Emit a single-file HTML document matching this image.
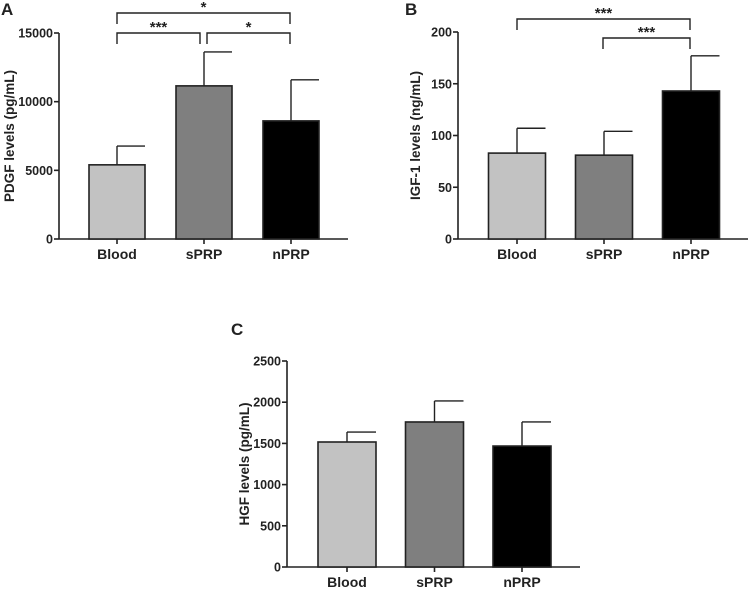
<!DOCTYPE html>
<html><head><meta charset="utf-8"><style>
html,body{margin:0;padding:0;background:#fff;}
svg text{font-family:"Liberation Sans",Arial,sans-serif;font-weight:bold;fill:#222;}
</style></head><body>
<svg id="fig" width="750" height="588" viewBox="0 0 750 588"></svg>
<script>
const categories = ["Blood","sPRP","nPRP"];
const pdgfValues = [5400, 11150, 8600];
const pdgfErrors = [1370, 2470, 2990];
const pdgfTicks = [0, 5000, 10000, 15000];
const igfValues = [83, 81, 143];
const igfErrors = [24, 23, 34];
const igfTicks = [0, 50, 100, 150, 200];
const hgfValues = [1517, 1760, 1468];
const hgfErrors = [121, 255, 292];
const hgfTicks = [0, 500, 1000, 1500, 2000, 2500];
const fills = ["#c2c2c2","#7f7f7f","#000000"];

const NS="http://www.w3.org/2000/svg";
const svg=document.getElementById('fig');
function mk(tag,attrs,parent){const e=document.createElementNS(NS,tag);for(const k in attrs)e.setAttribute(k,attrs[k]);(parent||svg).appendChild(e);return e;}

function panel(cfg){
  const g=mk('g',{});
  
  
  const ymax=cfg.ticks[cfg.ticks.length-1];
  const y=v=>cfg.y0-(v/ymax)*(cfg.y0-cfg.yTop);
  const ya=mk('line',{x1:cfg.ax,y1:cfg.yTop,x2:cfg.ax,y2:cfg.y0,stroke:'#222','stroke-width':1.6},g);
  
  
  const xa=mk('line',{x1:cfg.ax,y1:cfg.y0,x2:cfg.axEnd,y2:cfg.y0,stroke:'#222','stroke-width':1.6},g);
  
  
  cfg.ticks.forEach(t=>{
    mk('line',{x1:cfg.ax-5,y1:y(t),x2:cfg.ax,y2:y(t),stroke:'#222','stroke-width':1.6},g);
    const tl=mk('text',{x:cfg.ax-6,y:y(t)+4.5,'text-anchor':'end','font-size':12.5},g);
    tl.textContent=t;
    
    
  });
  const bw=cfg.bw;
  categories.forEach((c,i)=>{
    const cx=cfg.x0+i*cfg.step;
    const v=cfg.values[i], e=cfg.errors[i];
    mk('line',{x1:cx,y1:y(v+e),x2:cx,y2:y(v),stroke:'#222','stroke-width':1.4},g);
    mk('line',{x1:cx,y1:y(v+e),x2:cx+bw/2,y2:y(v+e),stroke:'#222','stroke-width':1.4},g);
    const r=mk('rect',{x:cx-bw/2,y:y(v),width:bw,height:cfg.y0-y(v),fill:fills[i],stroke:'#222','stroke-width':1.6},g);
    
    
    mk('line',{x1:cx,y1:cfg.y0,x2:cx,y2:cfg.y0+5,stroke:'#222','stroke-width':1.6},g);
    const xl=mk('text',{x:cx,y:cfg.y0+20,'text-anchor':'middle','font-size':14},g);
    xl.textContent=c;
    
    
  });
  const yt=mk('text',{x:0,y:0,'text-anchor':'middle','font-size':13.5,transform:`translate(${cfg.titleX},${(cfg.yTop+cfg.y0)/2}) rotate(-90)`},g);
  yt.textContent=cfg.title;
  
  
  const pl=mk('text',{x:cfg.lx,y:cfg.ly,'font-size':17,fill:'#000'},g);
  pl.textContent=cfg.letter;
  
  
  (cfg.brackets||[]).forEach(b=>{
    const x1=cfg.x0+b[0]*cfg.step+(b[3]||0), x2=cfg.x0+b[1]*cfg.step+(b[4]||0);
    const p=mk('path',{d:`M${x1},${b[2]+11} V${b[2]} H${x2} V${b[2]+11}`,fill:'none',stroke:'#222','stroke-width':1.4},g);
    
    
    const s=mk('text',{x:(x1+x2)/2,y:b[2]-1,'text-anchor':'middle','font-size':15},g);
    s.textContent=b[5];
    
    
  });
}

panel({name:'panel-a-pdgf',values:pdgfValues,errors:pdgfErrors,ticks:pdgfTicks,ax:59,axEnd:348,y0:239,yTop:33,x0:117,step:87,bw:56,
  title:'PDGF levels (pg/mL)',titleX:14,letter:'A',lx:1,ly:15,
  brackets:[[0,2,13,0,-1,'*'],[0,1,33,0,-4,'***'],[1,2,33,3,-1,'*']]});
panel({name:'panel-b-igf1',values:igfValues,errors:igfErrors,ticks:igfTicks,ax:458,axEnd:748,y0:239,yTop:32,x0:517,step:87,bw:57,
  title:'IGF-1 levels (ng/mL)',titleX:420,letter:'B',lx:405,ly:15,
  brackets:[[0,2,19,0,-1,'***'],[1,2,38,-1,-1,'***']]});
panel({name:'panel-c-hgf',values:hgfValues,errors:hgfErrors,ticks:hgfTicks,ax:287,axEnd:580,y0:567,yTop:361,x0:347,step:87.5,bw:58,
  title:'HGF levels (pg/mL)',titleX:249,letter:'C',lx:231,ly:335});
</script>
</body></html>
